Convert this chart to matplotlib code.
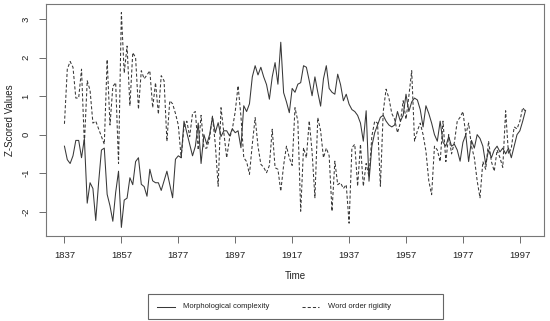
import numpy as np
import matplotlib.pyplot as plt
from matplotlib.lines import Line2D
from matplotlib.patches import Rectangle

plt.rcParams['font.family'] = ['Liberation Sans', 'DejaVu Sans']

# Years shown on the chart
years = np.arange(1837, 2000)

# Morphological complexity (solid line)
morph = [
    -0.30, -0.65, -0.75, -0.55, -0.15, -0.15, -0.60, -0.10, -1.78, -1.25,
    -1.40, -2.23, -1.25, -0.40, -0.35, -1.55, -1.85, -2.25, -1.50, -0.95,
    -2.41, -1.70, -1.65, -1.12, -1.30, -0.70, -0.60, -1.29, -1.35, -1.60,
    -0.90, -1.20, -1.25, -1.25, -1.45, -1.20, -0.95, -1.30, -1.64, -0.64,
    -0.55, -0.60, 0.35, 0.05, -0.25, -0.55, -0.30, 0.30, -0.75, 0.00,
    -0.25, 0.00, 0.45, 0.05, 0.31, -0.05, 0.10, 0.10, -0.03, 0.15,
    0.05, 0.10, -0.34, 0.75, 0.60, 0.80, 1.50, 1.79, 1.55, 1.75,
    1.50, 1.30, 0.92, 1.50, 1.87, 1.31, 2.40, 1.09, 0.85, 0.57,
    1.20, 1.10, 1.31, 1.35, 1.79, 1.75, 1.40, 1.01, 1.50, 1.10,
    0.74, 1.45, 1.79, 1.20, 1.10, 1.05, 1.57, 1.30, 0.88, 1.05,
    0.79, 0.65, 0.60, 0.50, 0.30, -0.17, 0.62, -1.21, -0.30, 0.05,
    0.25, 0.45, 0.50, 0.35, 0.25, 0.20, 0.25, 0.60, 0.35, 0.50,
    1.05, 0.60, 0.85, 0.95, 0.90, 0.65, 0.20, 0.75, 0.55, 0.30,
    0.00, -0.17, 0.35, -0.20, -0.30, -0.05, -0.30, -0.25, -0.40, -0.69,
    -0.20, 0.00, -0.70, -0.15, -0.35, 0.00, -0.10, -0.30, -0.77, -0.40,
    -0.60, -0.40, -0.30, -0.45, -0.35, -0.50, -0.35, -0.60, -0.30, 0.00,
    0.10, 0.35, 0.63,
]

# Word order rigidity (dashed line)
word_order = [
    0.28, 1.70, 1.90, 1.75, 0.95, 0.95, 1.70, -0.25, 1.40, 1.15,
    0.30, 0.35, 0.15, -0.05, -0.25, 1.95, 0.25, 1.25, 1.35, -0.75,
    3.17, 1.60, 2.30, 0.75, 2.13, 2.00, 0.66, 1.66, 1.45, 1.55,
    1.66, 0.70, 1.35, 0.53, 1.53, 1.40, -0.17, 0.88, 0.80, 0.55,
    0.25, -0.60, 0.20, 0.35, -0.05, 0.55, 0.60, -0.40, 0.50, -0.35,
    -0.35, -0.10, 0.48, -0.25, -1.34, 0.70, 0.05, -0.60, -0.10, 0.15,
    0.60, 1.27, 0.48, -0.60, -0.70, -1.03, -0.25, 0.44, -0.30, -0.77,
    -0.85, -0.99, -0.80, 0.14, -0.86, -0.90, -1.47, -0.80, -0.30, -0.60,
    -0.80, 0.70, 0.35, -1.99, -0.34, -0.60, 0.36, -0.45, -1.64, 0.44,
    0.10, -0.60, -0.35, -0.55, -1.99, -0.69, -1.30, -1.25, -1.40, -1.30,
    -2.30, -0.34, -0.25, -1.34, -0.25, -1.34, -0.75, -1.10, -0.04, 0.35,
    0.30, -1.34, 0.60, 1.18, 0.95, 0.55, 0.40, 0.05, 0.30, 0.88,
    0.40, 1.00, 1.66, -0.17, 0.10, 0.30, 0.00, -0.43, -1.20, -1.56,
    -0.30, -0.40, -0.70, 0.35, -0.70, 0.00, -0.50, -0.20, 0.35, 0.45,
    0.60, 0.00, 0.30, -0.30, -0.60, -1.20, -1.64, -0.70, -0.90, -0.17,
    -0.70, -0.95, -0.40, -0.60, -0.85, 0.62, -0.50, -0.35, 0.20, 0.15,
    0.35, 0.70, 0.60,
]

series_names = ['Morphological complexity', 'Word order rigidity']
xticks = np.arange(1837, 2000, 20)
yticks = [-2, -1, 0, 1, 2, 3]

W, H = 550, 321
fig = plt.figure(figsize=(W / 100, H / 100), dpi=100)
ax = fig.add_axes([46 / W, 1 - 236 / H, 498 / W, 232 / H])

line_col = '#383838'
dash = (3, 2)
ax.plot(years, morph, color=line_col, lw=0.75)
ax.plot(years, word_order, color=line_col, lw=0.75, dashes=dash)

# R-style 4% padding
span = years[-1] - years[0]
ax.set_xlim(years[0] - 0.04 * span, years[-1] + 0.04 * span)
lo, hi = min(min(morph), min(word_order)), max(max(morph), max(word_order))
ax.set_ylim(lo - 0.04 * (hi - lo), hi + 0.04 * (hi - lo))

ax.set_xticks(xticks)
ax.set_yticks(yticks)
ax.set_yticklabels([str(v) for v in yticks], rotation=90, va='center')
ax.tick_params(direction='out', length=5, width=0.6, color='#555555',
               labelsize=6.8, labelcolor='#222222', pad=6)
for s in ax.spines.values():
    s.set_color('#777777')
    s.set_linewidth(0.8)

ax.set_xlabel('Time', fontsize=7, color='#222222', labelpad=8)
ax.set_ylabel('Z-Scored Values', fontsize=7, color='#222222', labelpad=5)

# legend box below the plot, laid out like base R's horiz legend
def fx(px):
    return px / W

def fy(py):
    return 1 - py / H

fig.add_artist(Rectangle((fx(148), fy(319)), fx(443) - fx(148), fy(294) - fy(319),
                         transform=fig.transFigure, fill=False,
                         edgecolor='#666666', lw=0.8))
ly = fy(307)
fig.add_artist(Line2D([fx(157), fx(175)], [ly, ly], transform=fig.transFigure,
                      color=line_col, lw=0.75))
fig.text(fx(183), ly, series_names[0], fontsize=5.5, va='center', color='#222222')
fig.add_artist(Line2D([fx(302), fx(319)], [ly, ly], transform=fig.transFigure,
                      color=line_col, lw=0.75, dashes=dash))
fig.text(fx(328), ly, series_names[1], fontsize=5.5, va='center', color='#222222')

fig.savefig('out.png', dpi=100)
